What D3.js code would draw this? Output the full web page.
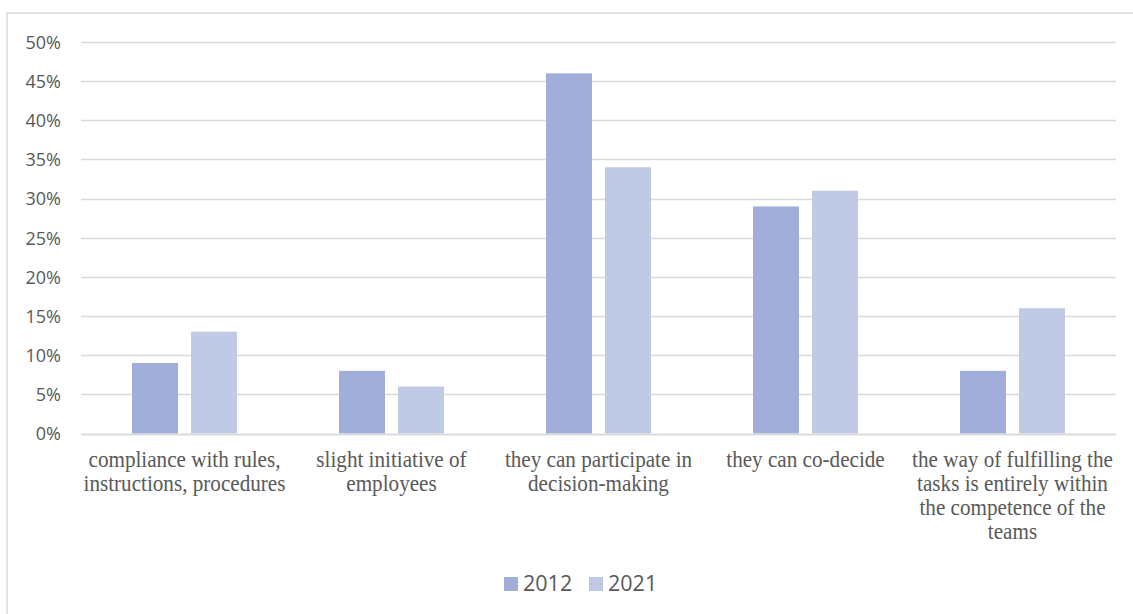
<!DOCTYPE html>
<html>
<head>
<meta charset="utf-8">
<script src="https://cdn.jsdelivr.net/npm/d3@7"></script>
<style>
  html, body { margin: 0; padding: 0; background: #ffffff; }
  svg { display: block; }
</style>
</head>
<body>
<svg id="chart" width="1133" height="614"></svg>
<script>
// Chart data
const categories = [
  ["compliance with rules,", "instructions, procedures"],
  ["slight initiative of", "employees"],
  ["they can participate in", "decision-making"],
  ["they can co-decide"],
  ["the way of fulfilling the", "tasks is entirely within", "the competence of the", "teams"]
];
const seriesNames = ["2012", "2021"];
const values2012 = [9, 8, 46, 29, 8];
const values2021 = [13, 6, 34, 31, 16];
const yTicks = [0, 5, 10, 15, 20, 25, 30, 35, 40, 45, 50];
const seriesColors = ["#a0aed9", "#c0cae5"];

const SANS = '"Open Sans", "Liberation Sans", sans-serif';
const SERIF = '"Liberation Serif", "Times New Roman", serif';
const TEXT_COLOR = "#595959";

const svg = d3.select("#chart");
const W = 1133, H = 614;

// Outer chart frame
svg.append("rect")
  .attr("x", 7).attr("y", 13)
  .attr("width", W + 10).attr("height", H + 10)
  .attr("fill", "#ffffff")
  .attr("stroke", "#d9d9d9").attr("stroke-width", 1.5);

const plot = { left: 81, right: 1116, top: 42, bottom: 433.5 };

const x0 = d3.scaleBand()
  .domain(d3.range(categories.length))
  .range([plot.left, plot.right])
  .paddingInner(0).paddingOuter(0);

const barW = 46, barGap = 13;
const x1 = d3.scaleOrdinal()
  .domain([0, 1])
  .range([-(barGap / 2 + barW), barGap / 2]);

const y = d3.scaleLinear().domain([0, 50]).range([plot.bottom, plot.top]);

// Horizontal gridlines
svg.append("g")
  .selectAll("line")
  .data(yTicks)
  .join("line")
  .attr("x1", plot.left).attr("x2", plot.right)
  .attr("y1", d => Math.round(y(d)) + 0.5).attr("y2", d => Math.round(y(d)) + 0.5)
  .attr("stroke", "#d9d9d9").attr("stroke-width", 1.5);

// Y-axis labels
const yAxis = d3.axisLeft(y).tickValues(yTicks).tickFormat(d => d + "%").tickSize(0).tickPadding(0);
const yg = svg.append("g").attr("transform", "translate(61,0)").call(yAxis);
yg.select(".domain").remove();
yg.selectAll("text")
  .attr("fill", TEXT_COLOR)
  .style("font-family", SANS)
  .style("font-size", "18px")
  .attr("dy", "0.35em");

// Bars
const series = [values2012, values2021];
const groups = svg.append("g")
  .selectAll("g")
  .data(series)
  .join("g")
  .attr("fill", (d, i) => seriesColors[i]);

groups.each(function (vals, si) {
  d3.select(this).selectAll("rect")
    .data(vals)
    .join("rect")
    .attr("x", (d, i) => x0(i) + x0.bandwidth() / 2 + x1(si))
    .attr("width", barW)
    .attr("y", d => y(d))
    .attr("height", d => y(0) - y(d));
});

// Baseline
svg.append("line")
  .attr("x1", plot.left).attr("x2", plot.right)
  .attr("y1", Math.round(y(0)) + 0.5).attr("y2", Math.round(y(0)) + 0.5)
  .attr("stroke", "#d9d9d9").attr("stroke-width", 1.5);

// Category labels (slightly condensed serif)
const catG = svg.append("g");
categories.forEach((lines, i) => {
  const cx = x0(i) + x0.bandwidth() / 2;
  const t = catG.append("text")
    .attr("transform", `translate(${cx},467) scale(0.9,1)`)
    .attr("text-anchor", "middle")
    .attr("fill", TEXT_COLOR)
    .style("font-family", SERIF)
    .style("font-size", "23.5px");
  lines.forEach((ln, k) => {
    t.append("tspan")
      .attr("x", 0)
      .attr("y", k * 24)
      .text(ln);
  });
});

// Legend
const legendItems = [
  { name: seriesNames[0], color: seriesColors[0], x: 504 },
  { name: seriesNames[1], color: seriesColors[1], x: 589 }
];
const lg = svg.append("g");
legendItems.forEach(it => {
  lg.append("rect")
    .attr("x", it.x).attr("y", 577)
    .attr("width", 14).attr("height", 14)
    .attr("fill", it.color);
  lg.append("text")
    .attr("x", it.x + 19).attr("y", 591)
    .attr("fill", TEXT_COLOR)
    .style("font-family", SANS)
    .style("font-size", "21.5px")
    .text(it.name);
});
</script>
</body>
</html>
